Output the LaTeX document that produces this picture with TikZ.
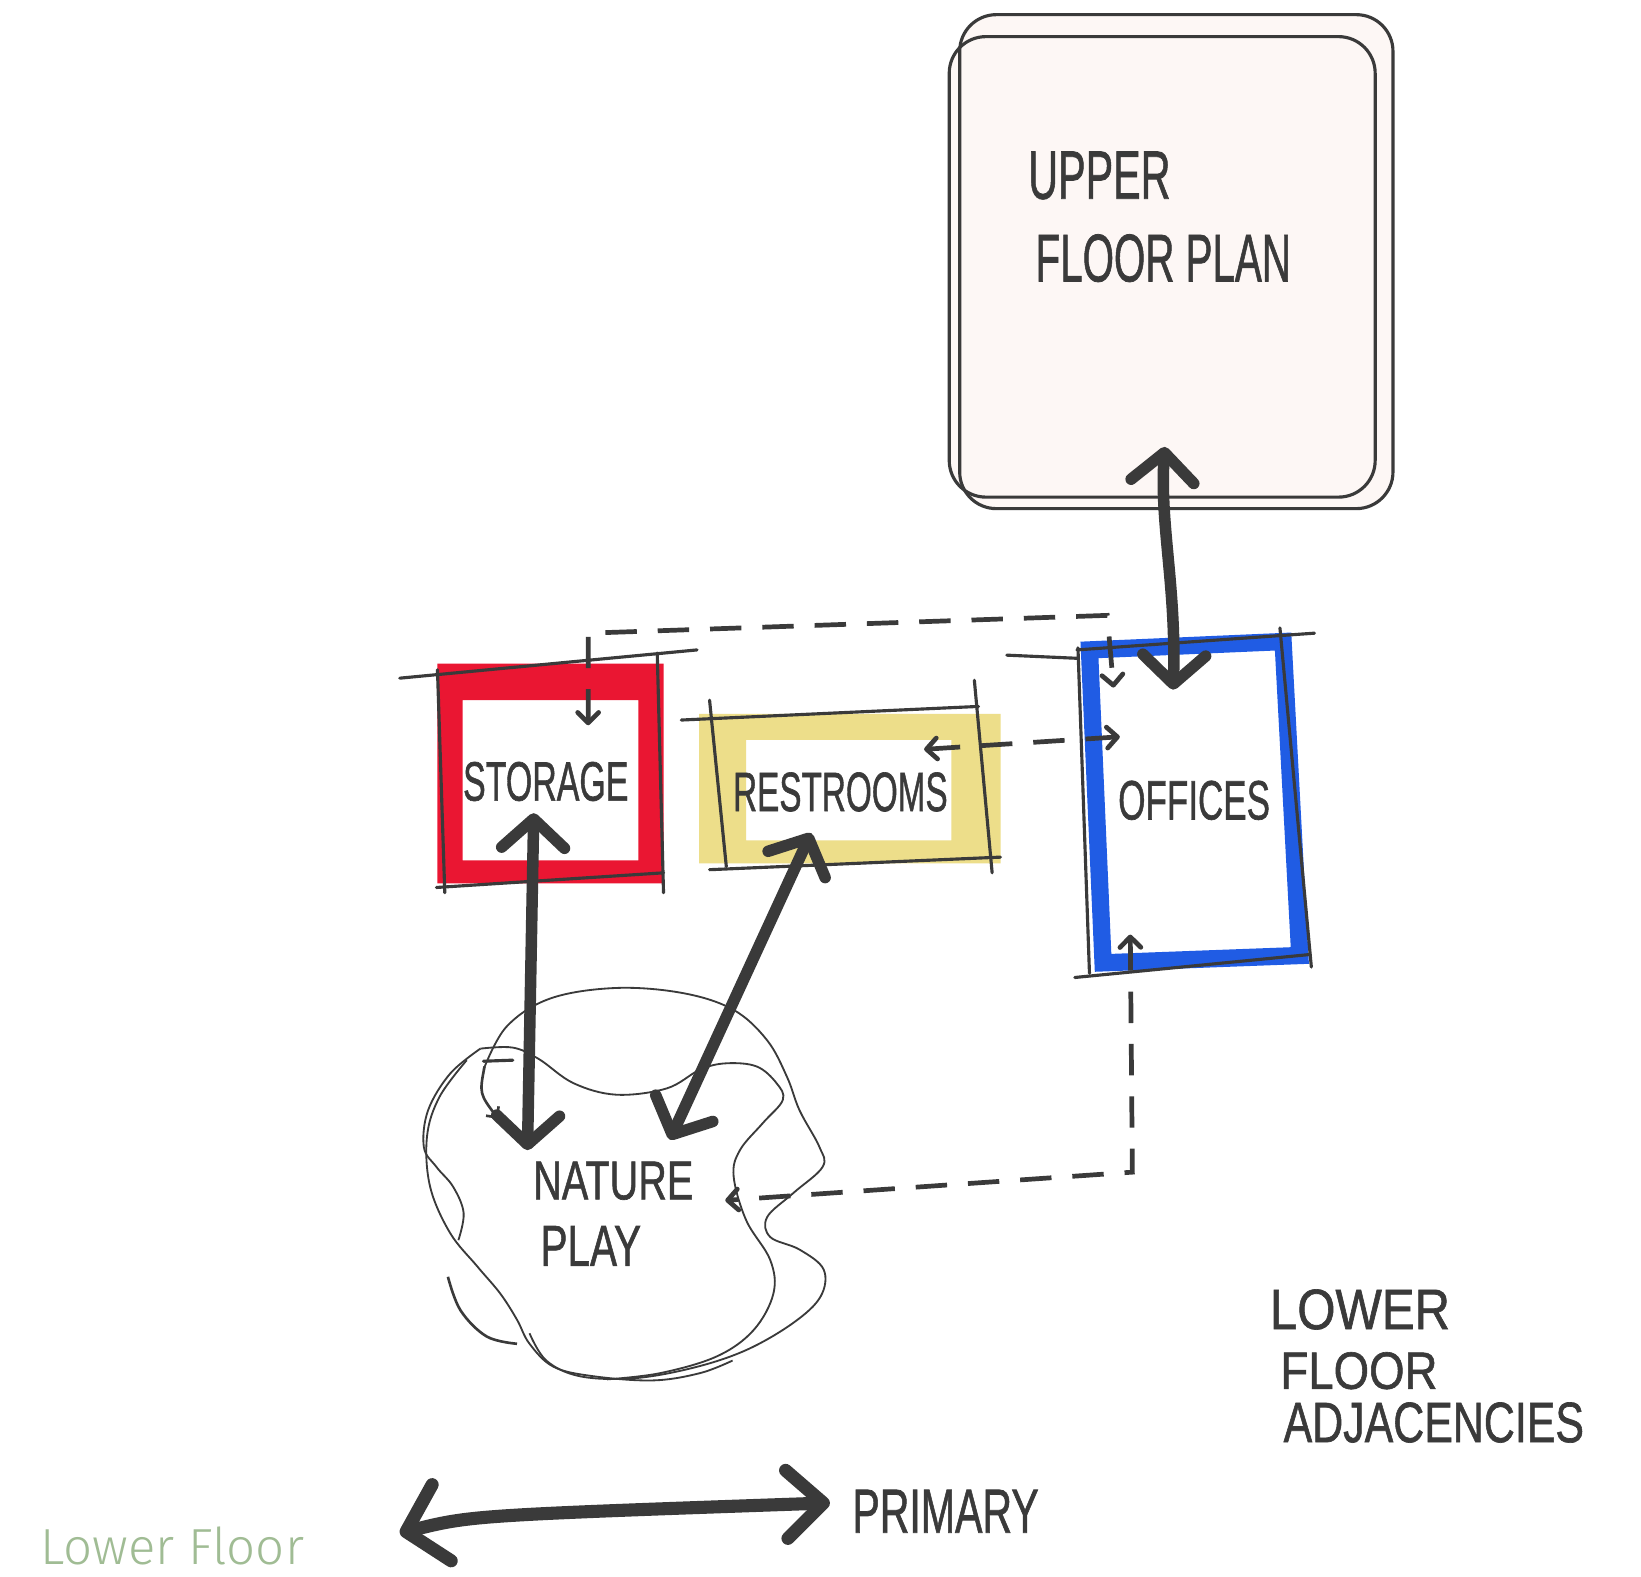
\documentclass[tikz,border=0pt]{standalone}
\usepackage{fontspec}
\usepackage{graphicx}
\setmainfont{Liberation Sans}
\newfontfamily\handfont{Liberation Sans}[FakeBold=1.2]
\newfontfamily\thinfont{Fira Sans Light}
\usetikzlibrary{arrows.meta}
\definecolor{ink}{RGB}{58,58,58}
\definecolor{redmk}{RGB}{234,22,50}
\definecolor{yelmk}{RGB}{237,222,138}
\definecolor{blumk}{RGB}{32,92,228}
\definecolor{paper}{RGB}{253,247,245}
\definecolor{sage}{RGB}{160,188,148}
\tikzset{
  boxline/.style={draw=ink, line width=1.2pt, line cap=round},
  bigarrow/.style={draw=ink, line width=4.4pt, line cap=round,
     {Straight Barb[round,length=11pt,width=24pt]}-{Straight Barb[round,length=11pt,width=24pt]}},
  dashline/.style={draw=ink, line width=1.8pt, dash pattern=on 12pt off 8pt,
     {Straight Barb[round,length=4pt,width=8pt]}-{Straight Barb[round,length=4pt,width=8pt]}},
  blobline/.style={draw=ink, line width=0.7pt},
  hand/.style={anchor=south west, inner sep=0pt, text=ink, font=\handfont},
}
\begin{document}
\begin{tikzpicture}[x=0.4pt,y=-0.4pt]
\fill[white] (0,0) rectangle (1568,1506);
\useasboundingbox (0,0) rectangle (1568,1506);

% upper floor plan
\fill[paper, rounded corners=14pt] (917,14) rectangle (1331,486);
\fill[paper, rounded corners=14pt] (907,35) rectangle (1314,475);
\draw[boxline, rounded corners=14pt] (917,14) rectangle (1331,486);
\draw[boxline, rounded corners=14pt] (907,35) rectangle (1314,475);
\node[hand] (upper) at (982,191) {\resizebox{54.4pt}{18pt}{UPPER}};
\node[hand] (floorplan) at (989,270) {\resizebox{97.6pt}{18pt}{FLOOR PLAN}};

% storage
\fill[redmk, even odd rule] (418,634) rectangle (634,844) (442,669) rectangle (610,822);
\draw[boxline] (382,648) -- (666,621);
\draw[boxline] (418,640) -- (425,853);
\draw[boxline] (628,624) -- (634,853);
\draw[boxline] (417,848) -- (634,834);
\node[hand] (storage) at (442,766) {\resizebox{63.2pt}{14.8pt}{STORAGE}};

% restrooms
\fill[yelmk, even odd rule] (668,682) rectangle (956,825) (713,707) rectangle (909,803);
\draw[boxline] (651,688) -- (935,675);
\draw[boxline] (678,669) -- (694,828);
\draw[boxline] (931,650) -- (948,834);
\draw[boxline] (678,831) -- (956,819);
\node[hand] (restrooms) at (700,776) {\resizebox{82pt}{14.8pt}{RESTROOMS}};

% offices
\draw[blumk, line width=6.6pt, line join=miter] (1041,621) -- (1226,613) -- (1242,913) -- (1054,920) -- cycle;
\draw[boxline] (962,626) -- (1029,629);
\draw[boxline] (1029,621) -- (1256,605);
\draw[boxline] (1030,619) -- (1041,930);
\draw[boxline] (1223,600) -- (1253,924);
\draw[boxline] (1027,934) -- (1252,912);
\node[hand] (offices) at (1068,784) {\resizebox{58pt}{14.8pt}{OFFICES}};

% nature play blob
\draw[blobline] plot[smooth, tension=0.6] coordinates {(462,1022) (484,981) (526,954) (589,944) (653,949) (701,965) (733,994) (752,1029) (764,1061) (783,1096) (786,1115) (758,1140) (733,1163) (736,1182) (764,1194) (787,1213) (784,1239) (758,1264) (713,1290) (662,1307) (605,1317) (554,1315) (522,1300) (506,1274)};
\draw[blobline] plot[smooth, tension=0.6] coordinates {(459,1002) (490,1001) (515,1012) (548,1035) (589,1046) (637,1040) (669,1022) (694,1016) (723,1019) (742,1035) (748,1051) (729,1073) (707,1099) (701,1124) (713,1166) (736,1204) (739,1236) (720,1271) (685,1296) (631,1312) (580,1318)};
\draw[blobline] plot[smooth, tension=0.6] coordinates {(459,1002) (430,1026) (409,1061) (405,1096) (417,1115) (433,1134) (443,1159) (438,1185)};
\draw[blobline] plot[smooth, tension=0.6] coordinates {(446,1013) (420,1048) (408,1086) (411,1134) (430,1178) (456,1210) (478,1236) (494,1261) (506,1284) (529,1306) (567,1315) (624,1319) (669,1312) (700,1300)};
\draw[blobline, line width=1pt] plot[smooth, tension=0.6] coordinates {(428,1220) (440,1252) (465,1277) (494,1284)};
\draw[draw=ink, line width=1.2pt, line cap=round] (462,1014) -- (490,1013);
\coordinate (thinA) at (463,1019);
\coordinate (thinB) at (476,1069);
\draw[draw=ink, line width=1pt, -{Straight Barb[length=3pt,width=6pt]}] (thinA) .. controls (458,1045) .. (thinB);
\node[hand] (nature) at (509,1147) {\resizebox{61.2pt}{14.4pt}{NATURE}};
\node[hand] (play) at (516,1210) {\resizebox{38.4pt}{15.2pt}{PLAY}};

% thick connectors
\coordinate (upS) at (1113,427);
\coordinate (offN) at (1121,659);
\coordinate (stoS) at (510,777);
\coordinate (natA) at (504,1099);
\coordinate (resS) at (775,796);
\coordinate (natB) at (640,1089);
\draw[bigarrow] (offN) .. controls (1124,560) and (1108,500) .. (upS);
\draw[bigarrow] (stoS) -- (natA);
\draw[bigarrow] (resS) -- (natB);

% dashed connectors
\coordinate (stoD) at (562,693);
\coordinate (dTL) at (562,605);
\coordinate (dTR) at (1058,588);
\coordinate (offD) at (1064,657);
\draw[dashline] (stoD) -- (dTL) -- (dTR) -- (offD);
\coordinate (resD) at (883,716);
\coordinate (offM) at (1070,704);
\draw[dashline] (resD) -- (offM);
\coordinate (offB) at (1080,893);
\coordinate (dBR) at (1082,1120);
\coordinate (natD) at (693,1147);
\draw[dashline] (offB) -- (dBR) -- (natD);

% legend
\coordinate (pL) at (382,1465);
\coordinate (pR) at (793,1436);
\draw[draw=ink, line width=5pt, line cap=round,
  {Straight Barb[round,length=14pt,width=30pt]}-{Straight Barb[round,length=14pt,width=26pt]}] (pL) .. controls (450,1448) .. (pR);
\node[hand] (primary) at (814,1465) {\resizebox{71.2pt}{16.4pt}{PRIMARY}};

\node[hand] (lower) at (1213,1271) {\resizebox{68.8pt}{15.2pt}{LOWER}};
\node[hand] (lfloor) at (1223,1328) {\resizebox{60pt}{14pt}{FLOOR}};
\node[hand] (adj) at (1226,1379) {\resizebox{114.8pt}{15.2pt}{ADJACENCIES}};

\node[anchor=south west, inner sep=0pt, text=sage] (title) at (38,1496) {\resizebox{100.8pt}{14.4pt}{\thinfont Lower Floor}};
\end{tikzpicture}
\end{document}
